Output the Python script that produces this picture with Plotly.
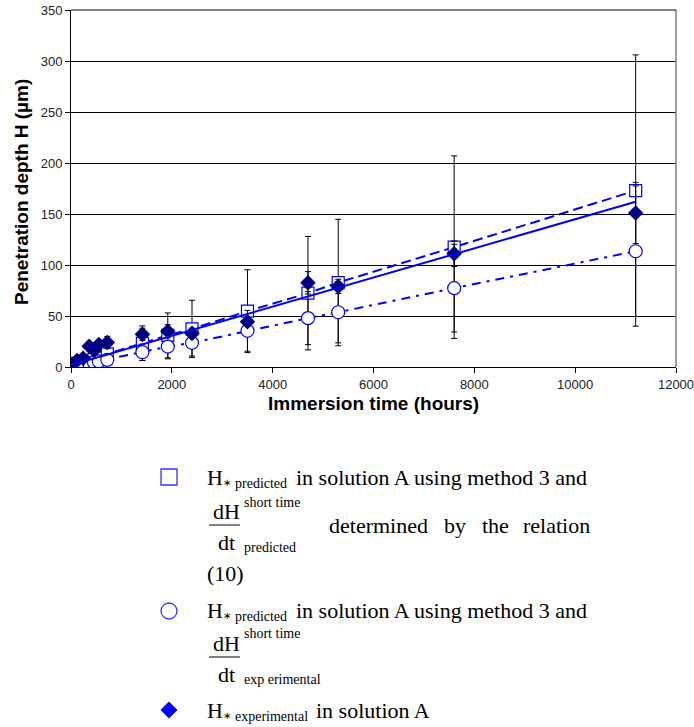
import plotly.graph_objects as go

# ---------------- data ----------------
time_h = [24, 120, 240, 360, 456, 552, 720, 1416, 1920, 2400, 3500, 4700, 5300, 7600, 11200]

h_pred_sq = [0.5, 2.2, 4.0, 6.0, 7.5, 9.0, 12.9, 23.3, 31.0, 37.4, 54.7, 72.4, 82.8, 117.5, 173.0]
h_pred_sq_err = [0.4, 1.7, 3.0, 4.5, 5.5, 7.0, 10.0, 17.0, 22.0, 28.0, 40.6, 55.6, 62.0, 89.5, 133.0]

h_pred_ci = [0.3, 1.3, 2.5, 3.7, 4.6, 5.5, 7.0, 14.5, 20.0, 23.7, 35.5, 47.9, 53.7, 77.3, 113.5]
h_pred_ci_err = [0.2, 0.7, 1.4, 2.0, 2.6, 3.0, 4.0, 8.0, 12.0, 13.0, 20.0, 26.0, 30.0, 43.0, 64.0]

h_exp = [3.0, 6.4, 8.6, 20.4, 16.2, 22.0, 24.0, 32.0, 35.0, 33.0, 44.3, 82.5, 79.0, 111.0, 151.0]
h_exp_err = [1.0, 2.0, 2.0, 4.0, 4.0, 4.0, 6.0, 6.0, 6.5, 5.0, 4.0, 11.0, 7.0, 12.5, 30.0]

trend_x = [0, 11200]
trend_y = [2.0, 162.0]

x_ticks = [0, 2000, 4000, 6000, 8000, 10000, 12000]
y_ticks = [0, 50, 100, 150, 200, 250, 300, 350]

BLUE = "#0000FF"
NAVY = "#000080"

fig = go.Figure()

err_style = dict(type="data", color="black", thickness=1, width=3, visible=True)

fig.add_trace(go.Scatter(
    x=time_h, y=h_pred_sq, mode="lines+markers",
    line=dict(color=BLUE, width=2, dash="10px,5px"),
    marker=dict(symbol="square", size=12, color="white", line=dict(width=1.2, color=BLUE)),
    error_y=dict(array=h_pred_sq_err, **err_style),
))
fig.add_trace(go.Scatter(
    x=time_h, y=h_pred_ci, mode="lines+markers",
    line=dict(color=BLUE, width=2, dash="9px,6px,3px,6px"),
    marker=dict(symbol="circle", size=13, color="white", line=dict(width=1.2, color=BLUE)),
    error_y=dict(array=h_pred_ci_err, **err_style),
))
fig.add_trace(go.Scatter(
    x=time_h, y=h_exp, mode="markers",
    marker=dict(symbol="diamond", size=12, color=NAVY, line=dict(width=0)),
    error_y=dict(array=h_exp_err, **err_style),
))
fig.add_trace(go.Scatter(
    x=trend_x, y=trend_y, mode="lines",
    line=dict(color=BLUE, width=2),
))

# ---------------- layout geometry (page pixels) ----------------
L, T, W, H = 71, 10, 605, 357
FIG_W, FIG_H = 694, 727


def px(x):
    return (x - L) / W


def py(y):
    return (T + H - y) / H


SANS = "Liberation Sans, Arial, sans-serif"
SERIF = "Liberation Serif, Times New Roman, serif"

annotations = []
shapes = []


def txt(x, y, s, size, family=SERIF, xanchor="left", **kw):
    annotations.append(dict(
        x=px(x), y=py(y), xref="paper", yref="paper", text=s, showarrow=False,
        xanchor=xanchor, yanchor="middle", font=dict(family=family, size=size, color="black"),
        **kw))


# axis titles
txt(21, 192, "<b>Penetration depth H (µm)</b>", 19, family=SANS, xanchor="center", textangle=-90)
txt(373, 403, "<b>Immersion time (hours)</b>", 19, family=SANS, xanchor="center")

MAIN = 22
SUB = 14
STAR = 10


def h_label(y, sub):
    txt(205, y, "H", MAIN)
    txt(220.5, y + 5, "∗", STAR)
    txt(233, y + 6, sub, SUB)


# legend row 1 (square)
shapes.append(dict(type="rect", xref="paper", yref="paper",
                   x0=px(161), x1=px(177), y0=py(485), y1=py(469),
                   line=dict(color="#3333FF", width=1.3), fillcolor="white"))
h_label(477, "predicted")
txt(294, 477, "in solution A using method 3 and", MAIN)
txt(211, 512, "dH", MAIN)
txt(242, 502, "short time", SUB)
shapes.append(dict(type="line", xref="paper", yref="paper",
                   x0=px(209), x1=px(240), y0=py(525), y1=py(525),
                   line=dict(color="black", width=1)))
txt(216, 542, "dt", MAIN)
txt(242, 547, "predicted", SUB)
txt(327, 525, "determined", MAIN)
txt(441.5, 525, "by", MAIN)
txt(480, 525, "the", MAIN)
txt(521, 525, "relation", MAIN)
txt(205, 573, "(10)", MAIN)

# legend row 2 (circle)
shapes.append(dict(type="circle", xref="paper", yref="paper",
                   x0=px(161), x1=px(177), y0=py(619), y1=py(603),
                   line=dict(color="#3333FF", width=1.3), fillcolor="white"))
h_label(610, "predicted")
txt(294, 610, "in solution A using method 3 and", MAIN)
txt(211, 643, "dH", MAIN)
txt(242, 633, "short time", SUB)
shapes.append(dict(type="line", xref="paper", yref="paper",
                   x0=px(209), x1=px(240), y0=py(657), y1=py(657),
                   line=dict(color="black", width=1)))
txt(216, 674, "dt", MAIN)
txt(242, 679, "exp erimental", SUB)

# legend row 3 (diamond)
dcx, dcy, dr = 169, 710, 8.5
shapes.append(dict(type="path", xref="paper", yref="paper",
                   path=f"M {px(dcx)} {py(dcy - dr)} L {px(dcx + dr)} {py(dcy)} L {px(dcx)} {py(dcy + dr)} L {px(dcx - dr)} {py(dcy)} Z",
                   line=dict(color=BLUE, width=0), fillcolor=BLUE))
h_label(710, "experimental")
txt(314, 710, "in solution A", MAIN)

# frame: right line grey, top line black
shapes.append(dict(type="line", xref="paper", yref="paper", x0=1, x1=1, y0=0, y1=1,
                   line=dict(color="#808080", width=1.5)))
shapes.append(dict(type="line", xref="paper", yref="paper", x0=0, x1=1, y0=1, y1=1,
                   line=dict(color="black", width=1)))

fig.update_layout(
    width=FIG_W, height=FIG_H,
    margin=dict(l=L, r=FIG_W - L - W, t=T, b=FIG_H - T - H, autoexpand=False),
    paper_bgcolor="white", plot_bgcolor="white",
    showlegend=False,
    annotations=annotations, shapes=shapes,
    xaxis=dict(range=[0, 12000], tickvals=x_ticks, ticktext=[str(v) for v in x_ticks],
               showgrid=False, zeroline=False, showline=True, linecolor="black", linewidth=1,
               ticks="outside", ticklen=5, tickcolor="black", ticklabeloverflow="allow",
               tickfont=dict(family=SANS, size=13, color="#222")),
    yaxis=dict(range=[0, 350], tickvals=y_ticks, ticktext=[str(v) for v in y_ticks],
               showgrid=True, gridcolor="black", gridwidth=1, zeroline=False,
               showline=True, linecolor="black", linewidth=1,
               ticks="outside", ticklen=5, tickcolor="black", ticklabeloverflow="allow",
               tickfont=dict(family=SANS, size=13, color="#222")),
)

# remove the browser's default 8px page margin so the figure sits at the page origin
fig.write_html("out.html",
               config={"displayModeBar": False},
               post_script="document.body.style.margin='0';document.body.style.overflow='hidden';")
